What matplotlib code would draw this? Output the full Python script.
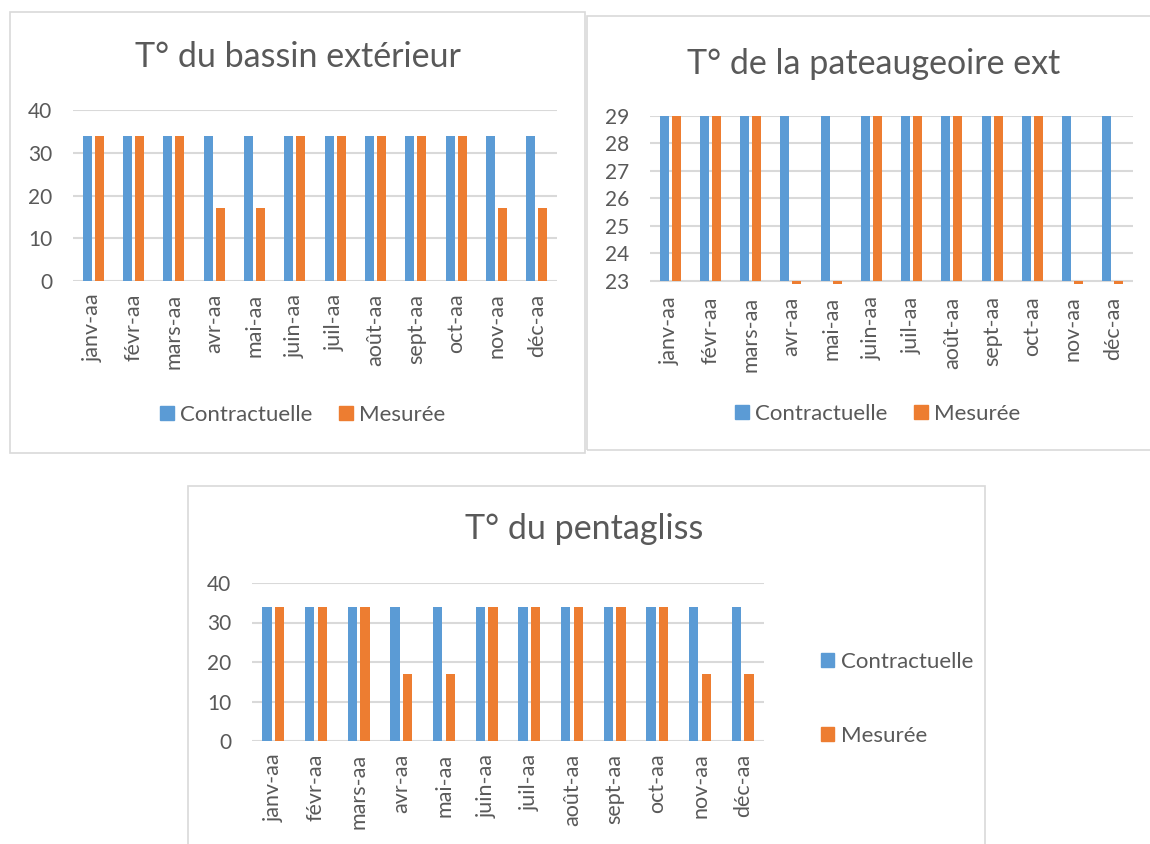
import numpy as np
import matplotlib
matplotlib.use("Agg")
import matplotlib.pyplot as plt
from matplotlib.patches import Rectangle, Patch

plt.rcParams['font.family'] = ['Lato', 'DejaVu Sans']

# données
mois = ['janv-aa', 'févr-aa', 'mars-aa', 'avr-aa', 'mai-aa', 'juin-aa',
        'juil-aa', 'août-aa', 'sept-aa', 'oct-aa', 'nov-aa', 'déc-aa']
bassin_contrat = [34, 34, 34, 34, 34, 34, 34, 34, 34, 34, 34, 34]
bassin_mesure = [34, 34, 34, 17, 17, 34, 34, 34, 34, 34, 17, 17]
patau_contrat = [29, 29, 29, 29, 29, 29, 29, 29, 29, 29, 29, 29]
patau_mesure = [29, 29, 29, 17, 17, 29, 29, 29, 29, 29, 17, 17]
penta_contrat = [34, 34, 34, 34, 34, 34, 34, 34, 34, 34, 34, 34]
penta_mesure = [34, 34, 34, 17, 17, 34, 34, 34, 34, 34, 17, 17]

BLEU = '#5B9BD5'
ORANGE = '#ED7D31'
GRIS = '#595959'
GRILLE = '#D9D9D9'

W, H = 1150, 844
fig = plt.figure(figsize=(W / 100, H / 100), dpi=100)


def fx(x):
    return x / W


def fy(y):
    return 1 - y / H


def cadre(x0, y0, x1, y1):
    r = Rectangle((fx(x0), fy(y1)), fx(x1 - x0), (y1 - y0) / H,
                  transform=fig.transFigure, fill=False,
                  edgecolor=GRILLE, lw=1.2)
    fig.patches.append(r)


def graphe(x0, y0, x1, y1, c1, c2, ymin, ymax, pas, bas=0):
    ax = fig.add_axes([fx(x0), fy(y1), fx(x1 - x0), (y1 - y0) / H])
    X = np.arange(len(mois))
    h1 = np.array(c1) - bas
    h2 = np.array(c2) - bas
    ax.bar(X - 0.149, h1, 0.225, bottom=bas, color=BLEU, zorder=3)
    ax.bar(X + 0.149, h2, 0.225, bottom=bas, color=ORANGE, zorder=3)
    ax.set_xlim(-0.5, len(mois) - 0.5)
    ax.set_ylim(ymin, ymax)
    ax.set_yticks(np.arange(bas, ymax + 0.01, pas))
    ax.set_xticks(X)
    ax.set_xticklabels(mois, rotation=90, fontsize=15.5, color=GRIS)
    ax.tick_params(axis='y', labelsize=15, colors=GRIS, length=0, pad=15)
    ax.tick_params(axis='x', length=0, pad=9)
    for s in ax.spines.values():
        s.set_visible(False)
    ax.yaxis.grid(True, color=GRILLE, lw=1.5, zorder=0)
    ax.set_axisbelow(True)
    return ax


handles = [Patch(color=BLEU, label='Contractuelle'),
           Patch(color=ORANGE, label='Mesurée')]
leg_opts = dict(frameon=False, fontsize=16, handlelength=0.6, handleheight=0.6,
                handletextpad=0.3, borderpad=0, labelcolor=GRIS)

# graphe 1
cadre(10, 12, 585, 453)
graphe(73, 110, 557, 281, bassin_contrat, bassin_mesure, 0, 40, 10)
fig.text(fx(298), fy(67), 'T° du bassin extérieur', ha='center', va='baseline',
         fontsize=24.5, color=GRIS)
fig.legend(handles=handles, loc='center', bbox_to_anchor=(fx(303), fy(415)),
           ncol=2, columnspacing=1.2, **leg_opts)

# graphe 2
cadre(587, 16, 1160, 450)
graphe(650, 116, 1133, 284, patau_contrat, patau_mesure, 22.89, 29, 1, bas=23)
fig.text(fx(874), fy(74), 'T° de la pateaugeoire ext', ha='center', va='baseline',
         fontsize=24.5, color=GRIS)
fig.legend(handles=handles, loc='center', bbox_to_anchor=(fx(878), fy(414)),
           ncol=2, columnspacing=1.2, **leg_opts)

# graphe 3
cadre(188, 486, 985, 850)
graphe(252, 583, 764, 741, penta_contrat, penta_mesure, 0, 40, 10)
fig.text(fx(584), fy(539), 'T° du pentagliss', ha='center', va='baseline',
         fontsize=24.5, color=GRIS)
fig.legend(handles=handles, loc='center left', bbox_to_anchor=(fx(810), fy(699)),
           ncol=1, labelspacing=2.45, **leg_opts)

fig.savefig('out.png', dpi=100)
